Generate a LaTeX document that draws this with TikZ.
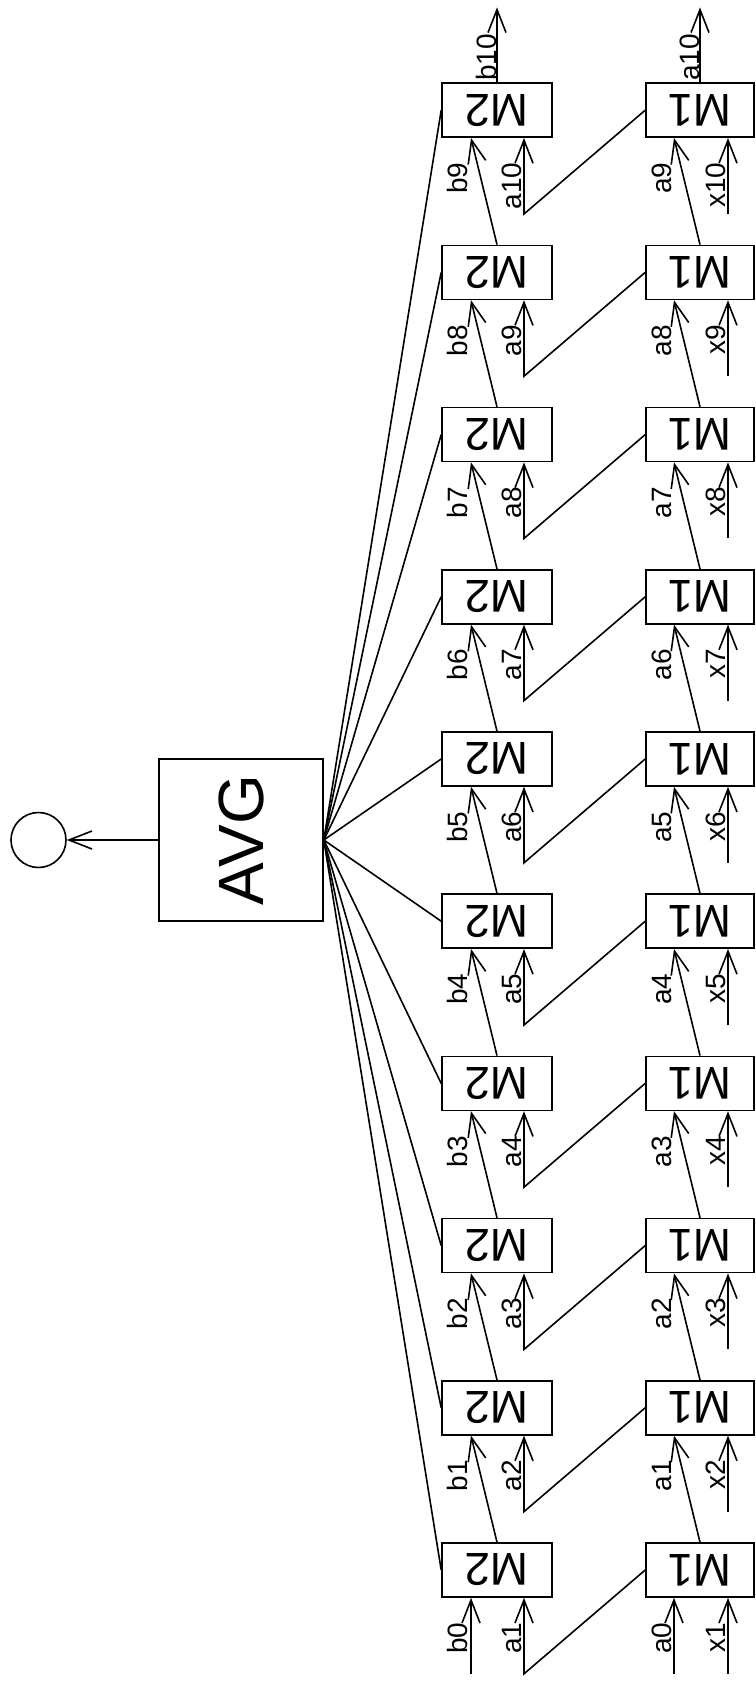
\documentclass[tikz,border=0pt]{standalone}
\usepackage{fontspec}
\setmainfont{Liberation Sans}
\usetikzlibrary{arrows.meta,calc}
\begin{document}
\begin{tikzpicture}[x=0.5pt,y=-0.5pt,line width=0.8pt,
  arr/.style={-{Straight Barb[length=11.5pt,width=9pt]}},
  mbox/.style={draw,minimum height=27pt,inner sep=0pt,font=\fontsize{23}{23}\selectfont},
  mtwo/.style={mbox,minimum width=55pt},
  mone/.style={mbox,minimum width=54pt},
  lab/.style={rotate=90,inner sep=0pt,font=\fontsize{14}{14}\selectfont},
  avgbox/.style={draw,minimum width=82pt,minimum height=81pt,inner sep=0pt,font=\fontsize{32}{32}\selectfont},
  outc/.style={draw,circle,minimum size=27.5pt,inner sep=0pt}]
\useasboundingbox (0,0) rectangle (755,1686);
% boxes
\foreach \j in {1,...,10}{
  \pgfmathsetmacro\cy{1570-162.2*(\j-1)}
  \node[mtwo] (M2-\j) at (497,\cy) {\rotatebox[origin=c]{180}{M2}};
  \node[mone] (M1-\j) at (700,\cy) {\rotatebox[origin=c]{180}{M1}};
}
\node[avgbox] (AVG) at (241,840) {\rotatebox[origin=c]{90}{AVG}};
\node[outc] (C) at (38.5,840) {};
\draw[arr] (AVG.west) -- (C.east);
% connections
\foreach \j in {1,...,10}{
  \pgfmathtruncatemacro\jm{\j-1}
  \coordinate (bi2-\j) at ($(M2-\j.south)+(-26,0)$);
  \coordinate (ai2-\j) at ($(M2-\j.south)+(27,0)$);
  \coordinate (ab2-\j) at ($(M2-\j.south)+(27,76)$);
  \coordinate (ai1-\j) at ($(M1-\j.south)+(-26,0)$);
  \coordinate (xi1-\j) at ($(M1-\j.south)+(28,0)$);
  \coordinate (xb1-\j) at ($(M1-\j.south)+(28,76)$);
  \draw (AVG.east) -- (M2-\j.west);
  \draw[arr] (M1-\j.west) -- (ab2-\j) -- (ai2-\j);
  \draw[arr] (xb1-\j) -- (xi1-\j);
  \node[lab,anchor=base east] (lb-\j) at ($(bi2-\j)+(-4,24)$) {b\jm};
  \node[lab,anchor=base east] (la2-\j) at ($(ai2-\j)+(-3,24)$) {a\j};
  \node[lab,anchor=base east] (la1-\j) at ($(ai1-\j)+(-3,24)$) {a\jm};
  \node[lab,anchor=base east] (lx-\j) at ($(xi1-\j)+(-3,24)$) {x\j};
}
\foreach \j in {2,...,10}{
  \pgfmathtruncatemacro\jm{\j-1}
  \draw[arr] (M2-\jm.north) -- (bi2-\j);
  \draw[arr] (M1-\jm.north) -- (ai1-\j);
}
\coordinate (bb0) at ($(bi2-1)+(0,76)$);
\coordinate (ab0) at ($(ai1-1)+(0,76)$);
\draw[arr] (bb0) -- (bi2-1);
\draw[arr] (ab0) -- (ai1-1);
\coordinate (ob) at ($(M2-10.north)+(0,-75)$);
\coordinate (oa) at ($(M1-10.north)+(0,-75)$);
\draw[arr] (M2-10.north) -- (ob);
\draw[arr] (M1-10.north) -- (oa);
\node[lab,anchor=base west] (lb10) at ($(M2-10.north)+(-1,-1)$) {b10};
\node[lab,anchor=base west] (la10) at ($(M1-10.north)+(-1,-1)$) {a10};
\end{tikzpicture}
\end{document}
